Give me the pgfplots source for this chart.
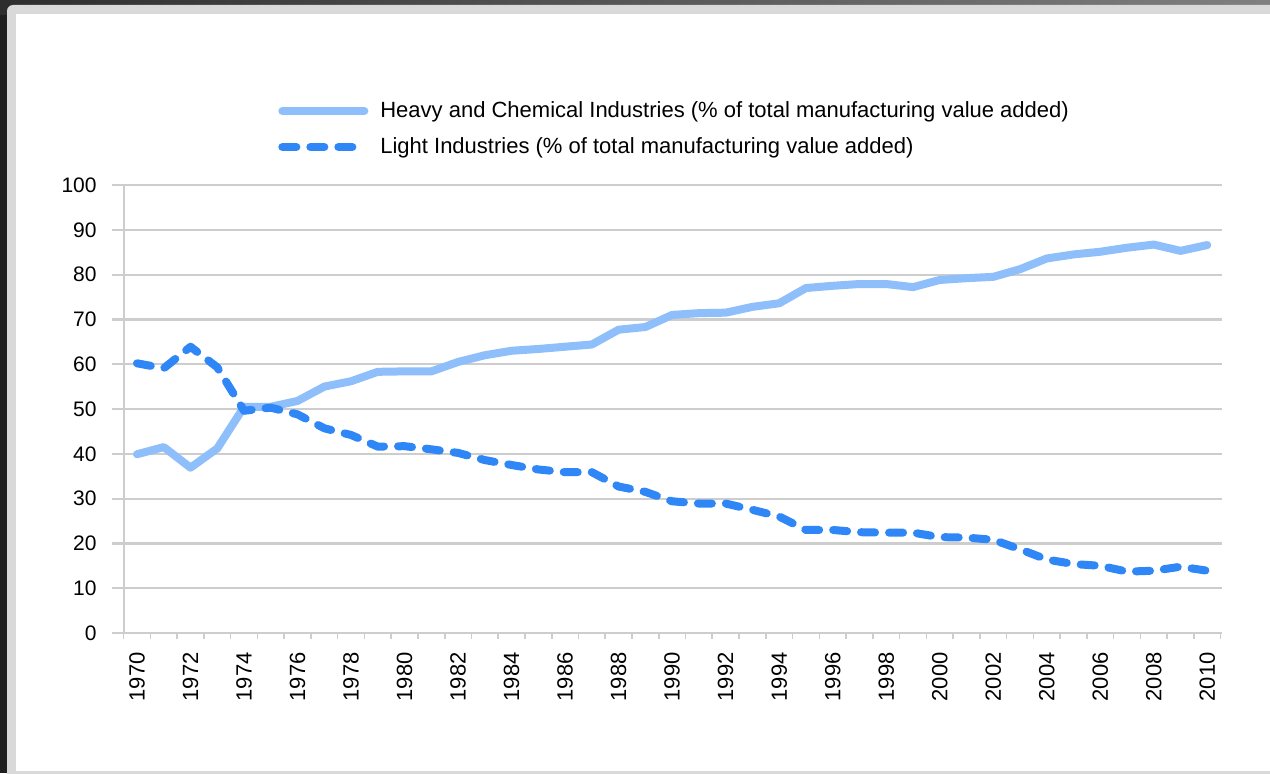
\documentclass[border=0pt]{standalone}
\usepackage{fontspec}
\setmainfont{Liberation Sans}
\usepackage{pgfplots}
\usepackage{pgfplotstable}
\pgfplotsset{compat=1.18}
\definecolor{heavyc}{HTML}{8EBFFA}
\definecolor{lightc}{HTML}{2F86F6}
\definecolor{gridc}{HTML}{CDCDCD}
\pgfplotstableread{
year heavy
1970 39.9
1971 41.5
1972 36.9
1973 41.2
1974 50.5
1975 50.5
1976 51.8
1977 55.0
1978 56.2
1979 58.3
1980 58.4
1981 58.4
1982 60.5
1983 62.0
1984 63.0
1985 63.4
1986 63.9
1987 64.4
1988 67.7
1989 68.3
1990 71.0
1991 71.4
1992 71.5
1993 72.8
1994 73.6
1995 77.0
1996 77.5
1997 77.9
1998 77.9
1999 77.2
2000 78.8
2001 79.2
2002 79.5
2003 81.2
2004 83.6
2005 84.5
2006 85.1
2007 86.0
2008 86.7
2009 85.3
2010 86.6
}\heavytable
\pgfplotstableread{
year light
1970 60.2
1971 59.1
1972 63.9
1973 59.3
1974 49.6
1975 50.3
1976 48.8
1977 45.7
1978 44.2
1979 41.6
1980 41.7
1981 41.0
1982 40.2
1983 38.6
1984 37.5
1985 36.5
1986 35.9
1987 35.9
1988 32.7
1989 31.5
1990 29.4
1991 28.9
1992 28.9
1993 27.5
1994 26.0
1995 23.0
1996 23.0
1997 22.5
1998 22.4
1999 22.4
2000 21.4
2001 21.3
2002 20.8
2003 18.7
2004 16.4
2005 15.4
2006 15.0
2007 13.7
2008 13.9
2009 14.8
2010 13.9
}\lighttable
\begin{document}
\begin{tikzpicture}
\useasboundingbox (0,0) rectangle (635pt,386.5pt);
\fill[black!88] (0,0) rectangle (635pt,386.5pt);
\shade[left color=black!82, right color=black!50] (0,379pt) rectangle (635pt,386.5pt);
\fill[black!15, rounded corners=3pt] (3.5pt,-5pt) rectangle (645pt,384pt);
\fill[white] (8pt,1pt) rectangle (640pt,379.5pt);
\begin{axis}[
  at={(56pt,70pt)}, anchor=south west,
  scale only axis, width=555pt, height=224pt,
  xmin=1969.065, xmax=2010.55, ymin=0, ymax=100,
  axis line style={draw=none},
  tick pos=left,
  tick align=outside,
  major tick length=0pt,
  minor tick length=2.8pt,
  every minor tick/.append style={gridc, line width=0.8pt},
  xtick={1970,1972,...,2010},
  minor xtick={1969.5,1970.5,...,2010.5},
  ytick={0,10,...,100},
  ymajorgrids,
  major grid style={gridc, line width=1.1pt},
  extra x ticks={1969.5},
  extra x tick labels={},
  extra x tick style={grid=major, major grid style={gridc, line width=1pt}},
  /pgf/number format/assume math mode=true,
  /pgf/number format/set thousands separator={},
  yticklabel style={font=\fontsize{10.5}{12}\selectfont, anchor=east, inner sep=0pt, xshift=-7.5pt},
  xticklabel style={font=\fontsize{11}{12}\selectfont, inner sep=0pt, yshift=-9.5pt, rotate=90, anchor=east},
  legend style={at={(0.1495,1.187)}, anchor=north west, draw=none, fill=none,
    font=\fontsize{11}{13}\selectfont, row sep=8.5pt, inner sep=0pt,
    nodes={inner sep=0pt},
    /tikz/every odd column/.append style={column sep=6pt}},
  legend cell align=left,
  legend image code/.code={\draw[#1] (0pt,0pt) -- (41pt,0pt);},
]
\addplot[heavyc, line width=4pt, line join=round, line cap=round] table[x=year,y=heavy] {\heavytable};
\addlegendentry{Heavy and Chemical Industries (\% of total manufacturing value added)}
\addplot[lightc, line width=4pt, line join=round, line cap=round, dash pattern=on 7pt off 7pt] table[x=year,y=light] {\lighttable};
\addlegendentry{Light Industries (\% of total manufacturing value added)}
\end{axis}
\end{tikzpicture}
\end{document}
